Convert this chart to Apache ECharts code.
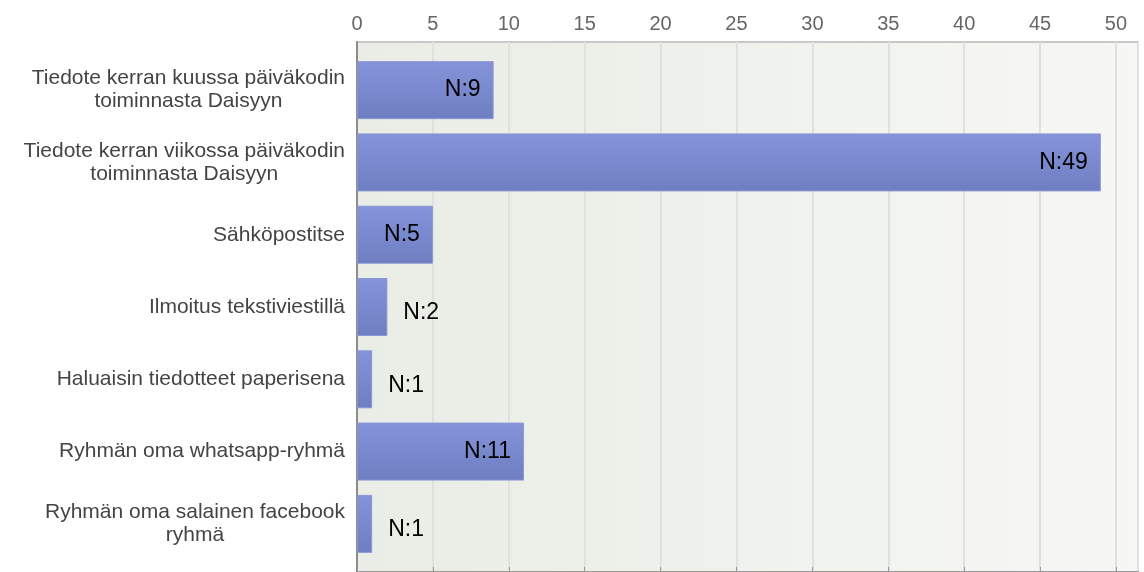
<!DOCTYPE html>
<html>
<head>
<meta charset="utf-8">
<script src="https://cdn.jsdelivr.net/npm/echarts@6/dist/echarts.min.js"></script>
<style>
  html, body { margin: 0; padding: 0; background: #fff; }
  #chart { width: 1144px; height: 572px; }
</style>
</head>
<body>
<div id="chart"></div>
<script>
// kategoriat (rivinvaihto kuten kuvassa)
const categories = [
  'Tiedote kerran kuussa päiväkodin\ntoiminnasta Daisyyn',
  'Tiedote kerran viikossa päiväkodin\ntoiminnasta Daisyyn',
  'Sähköpostitse',
  'Ilmoitus tekstiviestillä',
  'Haluaisin tiedotteet paperisena',
  'Ryhmän oma whatsapp-ryhmä',
  'Ryhmän oma salainen facebook\nryhmä'
];
const counts = [9, 49, 5, 2, 1, 11, 1];
const tickLabels = [0, 5, 10, 15, 20, 25, 30, 35, 40, 45, 50];

const axisMax = Math.max(...counts) * 1.05;

const chart = echarts.init(document.getElementById('chart'));

// pienet palkit: teksti palkin ulkopuolelle
const barData = counts.map(v => ({
  value: v,
  label: v < 3
    ? { position: 'right', distance: 16, offset: [0, 6] }
    : { position: 'insideRight', distance: 13 }
}));

chart.setOption({
  animation: false,
  grid: [
    {
      left: 357, right: 6, top: 42, bottom: -2,
      show: true,
      borderColor: '#c8c8c8',
      borderWidth: 2,
      backgroundColor: new echarts.graphic.LinearGradient(0, 0, 1, 0, [
        { offset: 0, color: '#e9ede5' },
        { offset: 1, color: '#f6f7f4' }
      ])
    },
    { left: 357, right: 6, top: 54, bottom: 12 }
  ],
  xAxis: [
    {
      gridIndex: 0,
      type: 'value',
      position: 'top',
      min: 0,
      max: axisMax,
      interval: 5,
      axisLine: { show: true, lineStyle: { color: '#999', width: 2 } },
      axisTick: { show: true, length: 5, lineStyle: { color: '#999' } },
      axisLabel: {
        margin: 8,
        color: '#666',
        fontFamily: 'Liberation Sans',
        fontSize: 20,
        showMaxLabel: false,
        formatter: v => tickLabels.includes(v) ? String(v) : ''
      },
      splitLine: { show: true, lineStyle: { color: '#dfe1de', width: 2 } }
    },
    {
      gridIndex: 1,
      type: 'value',
      min: 0,
      max: axisMax,
      show: false
    }
  ],
  yAxis: [
    {
      gridIndex: 0,
      type: 'value',
      min: 0,
      max: 1,
      axisLine: { show: true, lineStyle: { color: '#8c8c8c', width: 2 } },
      axisTick: { show: false },
      axisLabel: { show: false },
      splitLine: { show: false }
    },
    {
      gridIndex: 1,
      type: 'category',
      inverse: true,
      data: categories,
      axisLine: { show: false },
      axisTick: { show: false },
      axisLabel: {
        margin: 12,
        color: '#444',
        fontFamily: 'Liberation Sans',
        fontSize: 21,
        lineHeight: 23,
        formatter: v => v.split('\n').map(l => '{c|' + l + '}').join('\n'),
        rich: {
          c: { align: 'center', color: '#444', fontFamily: 'Liberation Sans', fontSize: 21, lineHeight: 23 }
        }
      }
    }
  ],
  series: [
    {
      type: 'bar',
      xAxisIndex: 1,
      yAxisIndex: 1,
      data: barData,
      barWidth: 58,
      itemStyle: {
        color: new echarts.graphic.LinearGradient(0, 0, 0, 1, [
          { offset: 0, color: '#8594d9' },
          { offset: 1, color: '#6e7ec1' }
        ]),
        borderColor: '#8a97d6',
        borderWidth: 1
      },
      label: {
        show: true,
        color: '#000',
        fontFamily: 'Liberation Sans',
        fontSize: 23,
        formatter: p => 'N:' + p.value
      }
    }
  ]
});

window.onresize = function () {
  chart.resize();
};
</script>
</body>
</html>
